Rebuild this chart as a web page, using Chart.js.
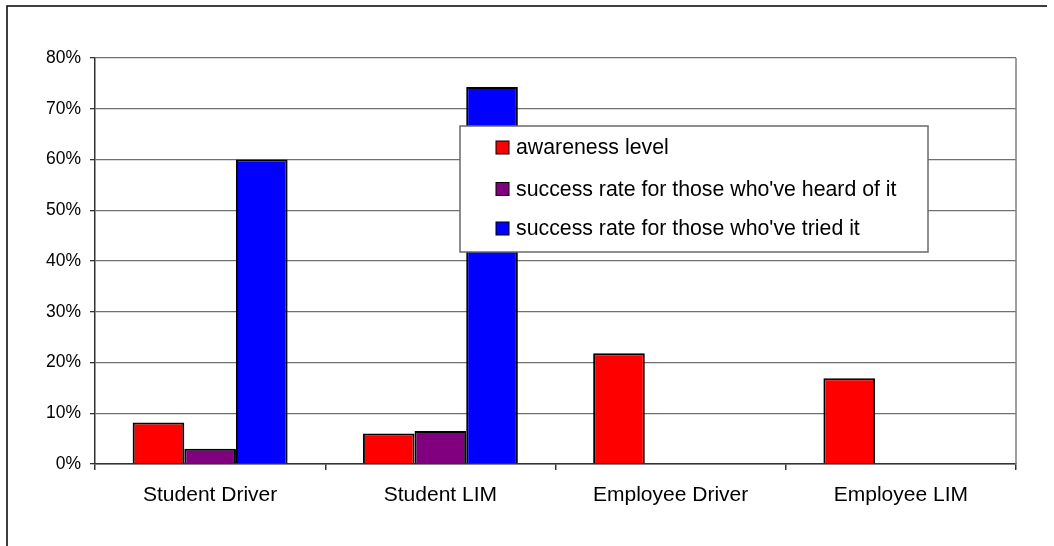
<!DOCTYPE html>
<html>
<head>
<meta charset="utf-8">
<script src="https://cdn.jsdelivr.net/npm/chart.js@4"></script>
<style>
html,body{margin:0;padding:0;background:#fff;}
canvas{display:block;}
</style>
</head>
<body>
<canvas id="c" width="1054" height="546"></canvas>
<script>
const categories = ["Student Driver", "Student LIM", "Employee Driver", "Employee LIM"];
const awareness = [8.2, 6.0, 21.8, 16.9];
const heardOf = [3.0, 6.5, null, null];
const triedIt = [60.0, 74.3, null, null];
const seriesLabels = ["awareness level", "success rate for those who've heard of it", "success rate for those who've tried it"];
const seriesColors = ["#FF0000", "#800080", "#0000FF"];
const yTickMax = 80;
const yTickStep = 10;

const FONT = "'Liberation Sans', Arial, sans-serif";

const framePlugin = {
  id: 'frame',
  afterDraw(chart) {
    const ctx = chart.ctx, a = chart.chartArea;
    ctx.save();
    ctx.strokeStyle = '#000';
    ctx.lineWidth = 1.5;
    ctx.beginPath();
    ctx.moveTo(7, 546);
    ctx.lineTo(7, 6);
    ctx.lineTo(1047, 6);
    ctx.stroke();
    ctx.strokeStyle = '#808080';
    ctx.lineWidth = 1.5;
    ctx.beginPath();
    ctx.moveTo(a.right, a.top);
    ctx.lineTo(a.right, a.bottom);
    ctx.stroke();
    const lx = 460, ly = 126, lw = 468, lh = 126;
    ctx.fillStyle = '#fff';
    ctx.fillRect(lx, ly, lw, lh);
    ctx.strokeStyle = '#6a6a6a';
    ctx.lineWidth = 1.5;
    ctx.strokeRect(lx, ly, lw, lh);
    ctx.font = '21.3px ' + FONT;
    ctx.textBaseline = 'middle';
    ctx.textAlign = 'left';
    const rows = [147.5, 189, 228.5];
    chart.data.datasets.forEach((ds, i) => {
      const cy = rows[i];
      ctx.fillStyle = ds.backgroundColor;
      ctx.fillRect(496, cy - 6.5, 13, 13);
      ctx.strokeStyle = '#000';
      ctx.lineWidth = 1;
      ctx.strokeRect(496, cy - 6.5, 13, 13);
      ctx.fillStyle = '#000';
      ctx.fillText(ds.label, 516, cy + 1);
    });
    ctx.restore();
  }
};

const datasets = [awareness, heardOf, triedIt].map((d, i) => ({
  label: seriesLabels[i],
  data: d,
  backgroundColor: seriesColors[i],
  borderColor: '#000',
  borderWidth: 2,
  borderSkipped: 'bottom',
  categoryPercentage: 0.673,
  barPercentage: 1.0
}));

new Chart(document.getElementById('c'), {
  type: 'bar',
  data: { labels: categories, datasets },
  options: {
    responsive: false,
    animation: false,
    devicePixelRatio: 1,
    layout: { padding: { left: 0, right: 38, top: 58, bottom: 0 } },
    plugins: { legend: { display: false }, tooltip: { enabled: false } },
    scales: {
      x: {
        offset: true,
        grid: { offset: true, drawOnChartArea: false, tickLength: 6, tickColor: '#333', lineWidth: 1.5 },
        border: { color: '#333', width: 1.5 },
        ticks: { color: '#000', font: { family: FONT, size: 21 }, padding: 13, maxRotation: 0 },
        afterFit(s) { s.height = 82; }
      },
      y: {
        min: 0, max: yTickMax,
        ticks: { stepSize: yTickStep, color: '#000', font: { family: FONT, size: 17.5 }, padding: 9,
          callback: v => v + '%' },
        grid: { color: '#707070', lineWidth: 1.3, tickLength: 5, tickColor: '#333' },
        border: { color: '#333', width: 1.5 },
        afterFit(s) { s.width = 95; }
      }
    }
  },
  plugins: [framePlugin]
});
</script>
</body>
</html>
